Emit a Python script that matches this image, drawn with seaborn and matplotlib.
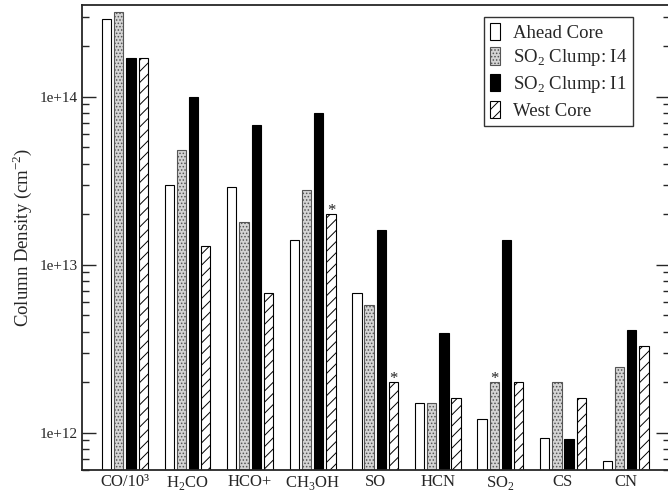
import numpy as np
import pandas as pd
import matplotlib
matplotlib.use("Agg")
import matplotlib.pyplot as plt
import matplotlib.ticker as mticker
from matplotlib.patches import Patch
import seaborn as sns

# ---------------- data ----------------
categories = ["CO/10³", r"H$_\mathregular{2}$CO", "HCO+", r"CH$_\mathregular{3}$OH", "SO",
              "HCN", r"SO$_\mathregular{2}$", "CS", "CN"]
series_names = ["Ahead Core", r"SO$_\mathregular{2}$ Clump: I4",
                r"SO$_\mathregular{2}$ Clump: I1", "West Core"]
ahead_core = [2.9e14, 3.0e13, 2.9e13, 1.4e13, 6.8e12, 1.5e12, 1.2e12, 9.3e11, 6.8e11]
clump_i4 = [3.2e14, 4.8e13, 1.8e13, 2.8e13, 5.8e12, 1.5e12, 2.0e12, 2.0e12, 2.45e12]
clump_i1 = [1.7e14, 1.0e14, 6.8e13, 8.0e13, 1.6e13, 3.9e12, 1.4e13, 9.2e11, 4.1e12]
west_core = [1.7e14, 1.3e13, 6.8e12, 2.0e13, 2.0e12, 1.6e12, 2.0e12, 1.6e12, 3.3e12]
# bars flagged with an asterisk: (series index, category index)
asterisks = [(3, 3), (3, 4), (1, 6)]

values = [ahead_core, clump_i4, clump_i1, west_core]
rows = []
for s, vals in zip(series_names, values):
    for c, v in zip(categories, vals):
        rows.append({"molecule": c, "series": s, "density": v})
df = pd.DataFrame(rows)

# ---------------- style ----------------
sns.set_style("ticks")
plt.rcParams["font.family"] = ["Liberation Serif", "DejaVu Serif"]
plt.rcParams["mathtext.fontset"] = "custom"
plt.rcParams["mathtext.rm"] = "Liberation Serif"
plt.rcParams["hatch.linewidth"] = 0.7

fig = plt.figure(figsize=(6.68, 4.93), dpi=100)
ax = fig.add_axes([81.7 / 668, 23 / 493, 588.3 / 668, 465 / 493])

sns.barplot(data=df, x="molecule", y="density", hue="series",
            order=categories, hue_order=series_names, errorbar=None,
            width=0.78, gap=0.24, ax=ax, legend=False)

styles = [
    dict(facecolor="white", edgecolor="black", hatch=None),
    dict(facecolor="#d4d4d4", edgecolor="#555555", hatch="....."),
    dict(facecolor="black", edgecolor="black", hatch=None),
    dict(facecolor="white", edgecolor="black", hatch="///"),
]
for cont, st in zip(ax.containers, styles):
    for p in cont:
        p.set_facecolor(st["facecolor"])
        p.set_edgecolor(st["edgecolor"])
        p.set_linewidth(0.8)
        if st["hatch"]:
            p.set_hatch(st["hatch"])

ax.set_yscale("log")
ax.set_ylim(6.0e11, 3.52e14)
ax.set_xlim(-0.69, 8.71)

# asterisks
for si, ci in asterisks:
    p = ax.containers[si][ci]
    ax.annotate("*", (p.get_x() + p.get_width() / 2, p.get_height()),
                xytext=(0, -3.2), textcoords="offset points",
                ha="center", va="bottom", fontsize=12, color="#222222")

# axes formatting
ax.yaxis.set_major_locator(mticker.LogLocator(base=10))
ax.yaxis.set_minor_locator(mticker.LogLocator(base=10, subs=np.arange(2, 10)))
ax.yaxis.set_major_formatter(mticker.FuncFormatter(
    lambda v, pos: "1e+%d" % int(round(np.log10(v)))))
ax.yaxis.set_minor_formatter(mticker.NullFormatter())
ax.tick_params(axis="y", which="major", direction="in", length=10, width=1,
               left=True, right=True, labelsize=11, pad=3)
ax.tick_params(axis="y", which="minor", direction="in", length=5, width=1,
               left=True, right=True)
ax.tick_params(axis="x", which="both", length=0, labelsize=12, pad=3)
for sp in ax.spines.values():
    sp.set_visible(True)
    sp.set_linewidth(1.3)

ax.set_xlabel("")
ax.set_ylabel(r"Column Density (cm$^\mathregular{-2}$)", fontsize=13.5, labelpad=4)

handles = [Patch(facecolor=st["facecolor"], edgecolor=st["edgecolor"],
                 hatch=st["hatch"], linewidth=0.8) for st in styles]
leg = ax.legend(handles, series_names, loc="upper right",
                bbox_to_anchor=(633 / 668, 1 - 17 / 493), bbox_transform=fig.transFigure,
                borderaxespad=0, fontsize=13.5, frameon=True, fancybox=False,
                handlelength=0.55, handleheight=1.05, handletextpad=0.7,
                labelspacing=0.3, borderpad=0.3)
leg.get_frame().set_edgecolor("black")
leg.get_frame().set_linewidth(1.0)

fig.savefig("out.png", dpi=100)
